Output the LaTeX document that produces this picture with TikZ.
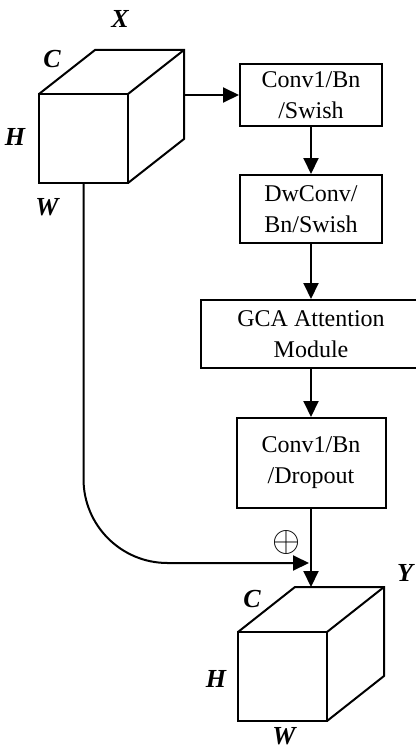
\documentclass[tikz,border=0pt]{standalone}
\usepackage{fontspec}
\setmainfont{Liberation Serif}
\usetikzlibrary{arrows.meta}
\usetikzlibrary{calc}
\tikzset{
  blk/.style={draw, line width=1pt, align=center, inner sep=0pt, font=\fontsize{12}{15.5}\selectfont},
  dimlab/.style={font=\fontsize{13}{14}\selectfont\bfseries\itshape, inner sep=1pt},
  arr/.style={-{Triangle[length=8pt,width=7.5pt]}, line width=1pt},
}

\begin{document}
\begin{tikzpicture}[x=0.5pt,y=-0.5pt,line width=1pt]
            \useasboundingbox (0,0) rectangle (416,749);
            \draw (39,94) rectangle (128,183);
            \draw (39,94) -- (95,50) -- (184,50) -- (184,139) -- (128,183);
            \draw (128,94) -- (184,50);
            \node[dimlab] (xlab) at (120,19) {X};
            \node[dimlab] (xc) at (52,59) {C};
            \node[dimlab] (xh) at (15,137) {H};
            \node[dimlab] (xw) at (47,207) {W};
            \coordinate (xout) at (184,95);
            \coordinate (xbot) at (83.5,183);
            \node[blk, minimum width=71pt, minimum height=31pt] (conv1) at (311,95) {Conv1/Bn\\/Swish};
            \node[blk, minimum width=71pt, minimum height=34pt] (dwconv) at (311,209) {DwConv/\\Bn/Swish};
            \node[blk, minimum width=110pt, minimum height=34pt] (gca) at (311,334) {GCA Attention\\Module};
            \node[blk, minimum width=74.5pt, minimum height=45pt] (conv2) at (311,463) {Conv1/Bn\\/Dropout};
            \draw (238,632) rectangle (327,721);
            \draw (238,632) -- (295,587) -- (384,587) -- (384,676) -- (327,721);
            \draw (327,632) -- (384,587);
            \node[dimlab] (ylab) at (405,573) {Y};
            \node[dimlab] (yc) at (252,599) {C};
            \node[dimlab] (yh) at (216,679) {H};
            \node[dimlab, anchor=south] (yw) at (284,748) {W};
            \coordinate (ytop) at (311,587);
            \coordinate (sum) at (309,563);
            \draw[arr] (xout) -- (conv1);
            \draw[arr] (conv1) -- (dwconv);
            \draw[arr] (dwconv) -- (gca);
            \draw[arr] (gca) -- (conv2);
            \draw[arr] (conv2) -- (ytop);
            \draw[arr, rounded corners=42pt] (xbot) |- (sum);
            \node[font=\large, scale=1.5] (plus) at (286,542) {$\oplus$};
        \end{tikzpicture}
\end{document}
